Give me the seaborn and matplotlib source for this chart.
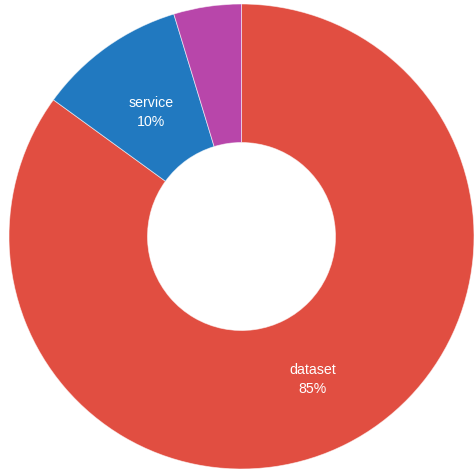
import matplotlib
matplotlib.use("Agg")
import matplotlib.pyplot as plt
import seaborn as sns
import numpy as np

categories = ["dataset", "service", "other"]
values = [85.0, 10.3, 4.7]
colors = ["#E14E41", "#2179C0", "#B846AA"]

sns.set_theme(style="white")
plt.rcParams['font.family'] = ['Liberation Sans', 'DejaVu Sans']

fig = plt.figure(figsize=(4.75, 4.72), dpi=100)
R = 232.5
cx, cy = 241.5, 472 - 236.5
ax = fig.add_axes([(cx - R) / 475, (cy - R) / 472, 2 * R / 475, 2 * R / 472])
palette = sns.color_palette(colors)

total = sum(values)
wedges, _ = ax.pie(values, colors=palette, startangle=90, counterclock=False,
                   radius=1.0, wedgeprops=dict(width=1 - 94 / R, edgecolor=(1, 1, 1, 0.6), linewidth=0.6))

label_r = 156.5 / R
shift = 3.5 / R
angle = 90.0
for cat, v in zip(categories, values):
    span = v / total * 360
    mid = np.deg2rad(angle - span / 2)
    angle -= span
    pct = v / total * 100
    if pct < 5:
        continue
    ax.text(label_r * np.cos(mid), label_r * np.sin(mid) - shift, f"{cat}\n{pct:.0f}%",
            ha="center", va="center", color="white", fontsize=10.2, linespacing=1.45)

ax.set_xlim(-1, 1)
ax.set_ylim(-1, 1)
ax.set_aspect("equal")
ax.axis("off")
fig.savefig("out.png", dpi=100)
